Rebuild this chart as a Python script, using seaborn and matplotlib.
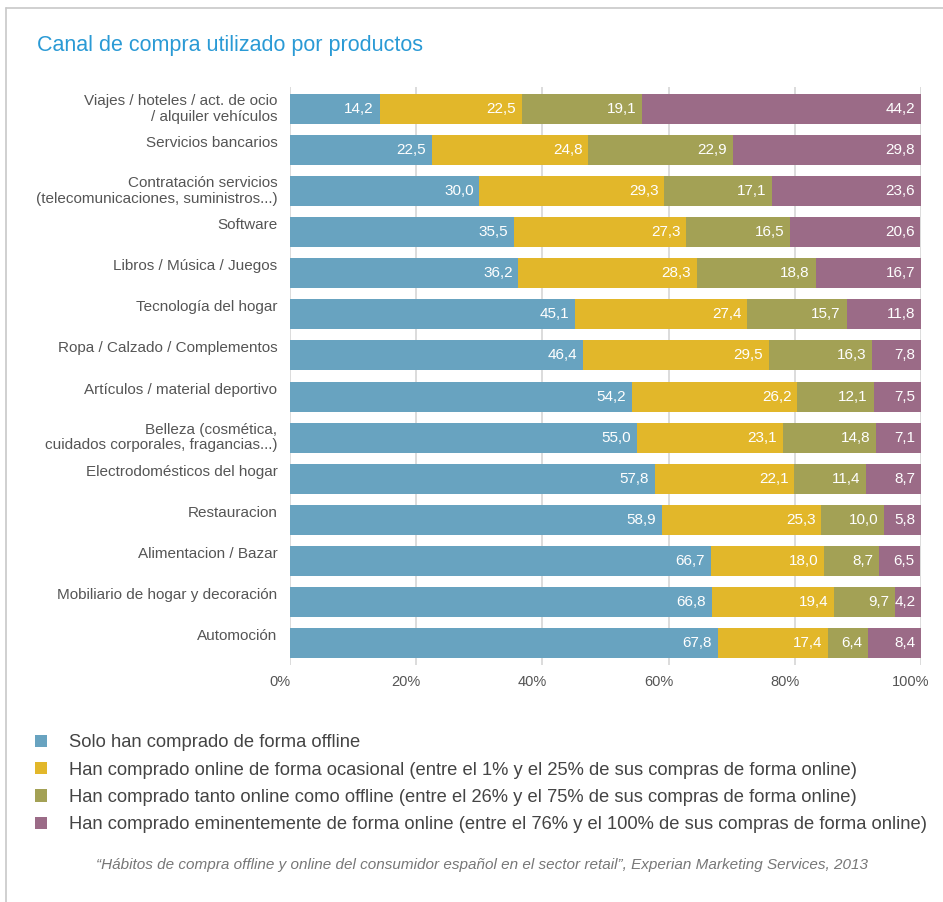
import matplotlib
matplotlib.use("Agg")
import matplotlib.pyplot as plt
from matplotlib.patches import Patch
from matplotlib.lines import Line2D
from matplotlib.transforms import ScaledTranslation
import seaborn as sns
import pandas as pd
import numpy as np

categories = [
    "Viajes / hoteles / act. de ocio\n/ alquiler vehículos",
    "Servicios bancarios",
    "Contratación servicios\n(telecomunicaciones, suministros...)",
    "Software",
    "Libros / Música / Juegos",
    "Tecnología del hogar",
    "Ropa / Calzado / Complementos",
    "Artículos / material deportivo",
    "Belleza (cosmética,\ncuidados corporales, fragancias...)",
    "Electrodomésticos del hogar",
    "Restauracion",
    "Alimentacion / Bazar",
    "Mobiliario de hogar y decoración",
    "Automoción",
]

offline_only = [14.2, 22.5, 30.0, 35.5, 36.2, 45.1, 46.4, 54.2, 55.0, 57.8, 58.9, 66.7, 66.8, 67.8]
occasional = [22.5, 24.8, 29.3, 27.3, 28.3, 27.4, 29.5, 26.2, 23.1, 22.1, 25.3, 18.0, 19.4, 17.4]
mixed = [19.1, 22.9, 17.1, 16.5, 18.8, 15.7, 16.3, 12.1, 14.8, 11.4, 10.0, 8.7, 9.7, 6.4]
mostly_online = [44.2, 29.8, 23.6, 20.6, 16.7, 11.8, 7.8, 7.5, 7.1, 8.7, 5.8, 6.5, 4.2, 8.4]

series_labels = [
    "Solo han comprado de forma offline",
    "Han comprado online de forma ocasional (entre el 1% y el 25% de sus compras de forma online)",
    "Han comprado tanto online como offline (entre el 26% y el 75% de sus compras de forma online)",
    "Han comprado eminentemente de forma online (entre el 76% y el 100% de sus compras de forma online)",
]
x_ticks = [0, 20, 40, 60, 80, 100]
x_tick_labels = ["0%", "20%", "40%", "60%", "80%", "100%"]

title = "Canal de compra utilizado por productos"
source = "\u201cHábitos de compra offline y online del consumidor español en el sector retail\u201d, Experian Marketing Services, 2013"

colors = ["#68a3c0", "#e2b72a", "#a3a155", "#9b6b87"]
label_gray = "#555555"
font = ["Liberation Sans", "DejaVu Sans"]

sns.set_theme(style="white")
plt.rcParams["font.family"] = font

series = [offline_only, occasional, mixed, mostly_online]
df = pd.DataFrame({"categoria": categories})
for i, s in enumerate(series):
    df[f"s{i}"] = s
cum = np.cumsum(np.array(series), axis=0)
for i in range(4):
    df[f"c{i}"] = cum[i]

fig = plt.figure(figsize=(9.43, 9.02), dpi=100)
W, H = 943, 902
ax_left, ax_right = 290 / W, 921 / W
ax_top_px, ax_bot_px = 87, 665
ax = fig.add_axes([ax_left, 1 - ax_bot_px / H, ax_right - ax_left, (ax_bot_px - ax_top_px) / H])

# vertical grid behind bars
for t in x_ticks:
    ax.axvline(t, color="#d6d6d6", lw=1.2, zorder=0)

# stacked bars: draw cumulative totals from outermost to innermost
for i in reversed(range(4)):
    sns.barplot(data=df, x=f"c{i}", y="categoria", orient="h", color=colors[i],
                width=0.73, saturation=1, ax=ax, zorder=2, linewidth=0)

# value labels at the right end of each segment
for r in range(len(categories)):
    for i in range(4):
        end = df[f"c{i}"].iloc[r]
        val = df[f"s{i}"].iloc[r]
        ax.text(end - 0.9, r, f"{val:.1f}".replace(".", ","), ha="right", va="center",
                color="white", fontsize=11, zorder=3)

ax.set_xlim(0, 100)
ax.set_ylim(len(categories) - 1 + 0.535, -0.535)
ax.set_xlabel("")
ax.set_ylabel("")
ax.set_xticks(x_ticks)
ax.set_xticklabels(x_tick_labels, color=label_gray, fontsize=10.5)
ax.tick_params(axis="x", length=0, pad=7)
shift = ScaledTranslation(-10 / 100, 0, fig.dpi_scale_trans)
for lbl in ax.get_xticklabels():
    lbl.set_transform(lbl.get_transform() + shift)
ax.set_yticks([])
for sp in ax.spines.values():
    sp.set_visible(False)

# category labels
for r, cat in enumerate(categories):
    dy = 0 if "\n" in cat else -0.17
    ax.text(-2.0, r + dy, cat, ha="right", va="center", color=label_gray,
            fontsize=11, linespacing=1.12, transform=ax.transData)

# title
fig.text(37 / W, 1 - 45 / H, title, color="#2a9ad5", fontsize=15.5, ha="left", va="center")

# legend
handles = [Patch(facecolor=c, edgecolor="none") for c in colors]
fig.legend(handles, series_labels, loc="upper left", bbox_to_anchor=(28 / W, 1 - 727 / H),
           frameon=False, fontsize=13.2, labelcolor="#444444", handlelength=0.65,
           handleheight=0.65, handletextpad=1.2, labelspacing=0.56, borderaxespad=0)

# source
fig.text(482 / W, 1 - 865 / H, source, color="#777777", fontsize=11, style="italic",
         ha="center", va="center")

# frame lines along top and left edge
fig.add_artist(Line2D([6 / W, 1], [1 - 8 / H, 1 - 8 / H], transform=fig.transFigure,
                      color="#c8c8c8", lw=1.2))
fig.add_artist(Line2D([6 / W, 6 / W], [0, 1 - 8 / H], transform=fig.transFigure,
                      color="#c8c8c8", lw=1.2))

fig.savefig("out.png", dpi=100, facecolor="white")
